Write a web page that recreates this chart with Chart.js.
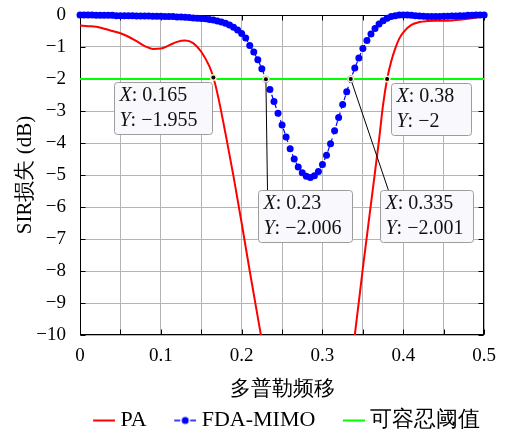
<!DOCTYPE html>
<html>
<head>
<meta charset="utf-8">
<script src="https://cdn.jsdelivr.net/npm/chart.js@4"></script>
<style>
  html, body { margin: 0; padding: 0; background: #fff; }
</style>
</head>
<body>
<canvas id="chart" width="506" height="432"></canvas>
<script>
/* SIR 损失 vs 多普勒频移 */
const FONT = "'Liberation Serif', 'DejaVu Serif', serif";

// PA 曲线 (低于 -10 的部分被坐标区裁掉)
const paX = [0, 0.01, 0.02, 0.03, 0.04, 0.05, 0.06, 0.07, 0.08, 0.09, 0.10, 0.11, 0.12, 0.13, 0.14, 0.15, 0.16, 0.165,
  0.17, 0.18, 0.19, 0.20, 0.21, 0.22, 0.23, 0.24, 0.25, 0.32, 0.33, 0.34, 0.35, 0.36, 0.37, 0.375, 0.38, 0.385,
  0.39, 0.395, 0.40, 0.41, 0.42, 0.43, 0.44, 0.45, 0.46, 0.47, 0.48, 0.49, 0.50];
const paY = [-0.33, -0.35, -0.37, -0.43, -0.50, -0.57, -0.68, -0.82, -0.97, -1.06, -1.05, -0.95, -0.84, -0.80, -0.88, -1.15, -1.60, -1.955,
  -2.45, -3.70, -5.05, -6.50, -8.00, -9.45, -10.85, -12.0, -13.0, -13.0, -11.8, -10.0, -7.9, -5.9, -3.9, -2.8, -2.0, -1.45,
  -1.05, -0.74, -0.54, -0.31, -0.22, -0.19, -0.18, -0.18, -0.17, -0.15, -0.12, -0.08, -0.04];

// FDA-MIMO 散点
const fdaX = [0, 0.005, 0.01, 0.015, 0.02, 0.025, 0.03, 0.035, 0.04, 0.045, 0.05, 0.055, 0.06, 0.065, 0.07, 0.075, 0.08, 0.085, 0.09, 0.095,
  0.10, 0.105, 0.11, 0.115, 0.12, 0.125, 0.13, 0.135, 0.14, 0.145, 0.15, 0.155, 0.16, 0.165, 0.17, 0.175, 0.18, 0.185, 0.19, 0.195,
  0.20, 0.205, 0.21, 0.215, 0.22, 0.225, 0.23, 0.235, 0.24, 0.245, 0.25, 0.255, 0.26, 0.265, 0.27, 0.275, 0.28, 0.285, 0.29, 0.295,
  0.30, 0.305, 0.31, 0.315, 0.32, 0.325, 0.33, 0.335, 0.34, 0.345, 0.35, 0.355, 0.36, 0.365, 0.37, 0.375, 0.38, 0.385, 0.39, 0.395,
  0.40, 0.405, 0.41, 0.415, 0.42, 0.425, 0.43, 0.435, 0.44, 0.445, 0.45, 0.455, 0.46, 0.465, 0.47, 0.475, 0.48, 0.485, 0.49, 0.495, 0.50];
const fdaY = [0, 0, 0, 0, -0.01, -0.01, -0.01, -0.01, -0.01, -0.02, -0.02, -0.02, -0.02, -0.02, -0.03, -0.03, -0.03, -0.03, -0.04, -0.04,
  -0.04, -0.05, -0.05, -0.05, -0.06, -0.06, -0.07, -0.08, -0.09, -0.10, -0.11, -0.12, -0.14, -0.16, -0.19, -0.22, -0.26, -0.31, -0.38, -0.47,
  -0.58, -0.72, -0.95, -1.16, -1.40, -1.68, -2.006, -2.33, -2.70, -3.07, -3.44, -3.81, -4.18, -4.50, -4.75, -4.93, -5.04, -5.08, -5.02, -4.89,
  -4.67, -4.38, -4.02, -3.62, -3.20, -2.80, -2.40, -2.001, -1.66, -1.34, -1.05, -0.80, -0.59, -0.42, -0.28, -0.18, -0.10, -0.05, -0.02, 0,
  0, 0, -0.01, -0.02, -0.03, -0.04, -0.05, -0.05, -0.05, -0.05, -0.04, -0.04, -0.03, -0.03, -0.02, -0.02, -0.01, -0.01, 0, 0, 0];

// 可容忍阈值
const thrX = [0, 0.5];
const thrY = [-2, -2];

// 数据提示
const tipX = [0.165, 0.23, 0.335, 0.38];
const tipY = [-1.955, -2.006, -2.001, -2];
const tipBoxes = [
  { dx: -99, dy: 4, w: 98, h: 52 },
  { dx: -7.5, dy: 111, w: 94, h: 52, lx: 9 },
  { dx: 29.5, dy: 111, w: 93, h: 52, lx: 8 },
  { dx: 3.5, dy: 4, w: 80, h: 52 }
];

const pts = (xs, ys) => xs.map((x, i) => ({ x, y: ys[i] }));
const minus = v => String(v).replace('-', '\u2212');

// 图例图标: 右侧 22px 为线段, 左侧留白作为条目间距
function legendIcon(color, withDot) {
  const c = document.createElement('canvas');
  c.width = 49; c.height = 12;
  const g = c.getContext('2d');
  g.strokeStyle = color; g.fillStyle = color;
  if (withDot) {
    g.lineWidth = 1.5;
    g.beginPath(); g.moveTo(27, 6); g.lineTo(33, 6); g.moveTo(43, 6); g.lineTo(49, 6); g.stroke();
    g.beginPath(); g.arc(38, 6, 3.5, 0, Math.PI * 2); g.fill();
  } else {
    g.lineWidth = 2;
    g.beginPath(); g.moveTo(27, 6); g.lineTo(49, 6); g.stroke();
  }
  return c;
}

// 外框 + 向内刻度
const frame = {
  id: 'frame',
  beforeDatasetsDraw(chart) {
    const { ctx, chartArea: a, scales: { x, y } } = chart;
    const L = Math.round(a.left) + 0.5, R = Math.round(a.right) - 0.5;
    const T = Math.round(a.top) + 0.5, B = Math.round(a.bottom) - 0.5;
    ctx.save();
    ctx.strokeStyle = '#000';
    ctx.lineWidth = 1;
    ctx.beginPath();
    x.ticks.forEach(t => {
      const p = Math.round(x.getPixelForValue(t.value)) + 0.5;
      ctx.moveTo(p, B); ctx.lineTo(p, B - 5);
      ctx.moveTo(p, T); ctx.lineTo(p, T + 5);
    });
    y.ticks.forEach(t => {
      const p = Math.round(y.getPixelForValue(t.value)) + 0.5;
      ctx.moveTo(L, p); ctx.lineTo(L + 5, p);
      ctx.moveTo(R, p); ctx.lineTo(R - 5, p);
    });
    ctx.stroke();
    ctx.strokeRect(L, T, R - L, B - T);
    ctx.restore();
  }
};

// 图例整体挪到坐标区正下方
const legendShift = {
  id: 'legendShift',
  afterLayout(chart) {
    const lg = chart.legend;
    lg.left += 33; lg.right += 33;
    lg.top += 9.5; lg.bottom += 9.5;
  }
};

const datatips = {
  id: 'datatips',
  afterDatasetsDraw(chart) {
    const { ctx, scales: { x, y } } = chart;
    ctx.save();
    tipX.forEach((tx, i) => {
      const px = x.getPixelForValue(tx), py = y.getPixelForValue(tipY[i]);
      const b = tipBoxes[i];
      const bx = Math.round(px + b.dx) + 0.5, by = Math.round(py + b.dy) + 0.5;
      if (b.lx != null) {
        ctx.strokeStyle = '#000'; ctx.lineWidth = 1;
        ctx.beginPath(); ctx.moveTo(px, py); ctx.lineTo(bx + b.lx, by); ctx.stroke();
      }
      ctx.beginPath();
      ctx.roundRect(bx, by, b.w, b.h, 3);
      ctx.fillStyle = '#f9f9fd'; ctx.fill();
      ctx.strokeStyle = '#9c9c9c'; ctx.lineWidth = 1; ctx.stroke();

      ctx.fillStyle = '#111';
      ctx.textBaseline = 'middle';
      ctx.textAlign = 'left';
      [['X', tx], ['Y', tipY[i]]].forEach(([k, v], j) => {
        const ty = by + 13 + j * 25;
        ctx.font = "italic 20px " + FONT;
        ctx.fillText(k, bx + 5, ty);
        const w = ctx.measureText(k).width;
        ctx.font = "20px " + FONT;
        ctx.fillText(': ' + minus(v), bx + 5 + w, ty);
      });

      ctx.beginPath(); ctx.arc(px, py, 3.5, 0, Math.PI * 2);
      ctx.fillStyle = '#f3eec4'; ctx.fill();
      ctx.beginPath(); ctx.arc(px, py, 2, 0, Math.PI * 2);
      ctx.fillStyle = '#000'; ctx.fill();
    });
    ctx.restore();
  }
};

Chart.defaults.font.family = FONT;
Chart.defaults.color = '#000';

new Chart(document.getElementById('chart'), {
  type: 'line',
  data: {
    datasets: [
      {
        label: 'PA', data: pts(paX, paY), borderColor: '#ff0000', borderWidth: 2,
        pointRadius: 0, cubicInterpolationMode: 'monotone', order: 3,
        legendIcon: legendIcon('#ff0000', false)
      },
      {
        label: 'FDA-MIMO', data: pts(fdaX, fdaY), borderColor: '#0000ff', borderWidth: 1.2, borderDash: [5, 4],
        pointRadius: 3.5, pointBorderWidth: 0, pointBackgroundColor: '#0000ff', clip: false, order: 2,
        legendIcon: legendIcon('#0000ff', true)
      },
      {
        label: '可容忍阈值', data: pts(thrX, thrY), borderColor: '#00ff00', borderWidth: 2,
        pointRadius: 0, order: 1,
        legendIcon: legendIcon('#00ff00', false)
      }
    ]
  },
  options: {
    responsive: false, animation: false, events: [],
    layout: { padding: { left: 0, right: 20, top: 15, bottom: 0 } },
    plugins: {
      tooltip: { enabled: false },
      legend: {
        position: 'bottom', align: 'center',
        labels: {
          usePointStyle: true, pointStyleWidth: 38, padding: 6,
          font: { size: 22, lineHeight: 1 },
          generateLabels: chart => chart.data.datasets.map((d, i) => ({
            text: d.label, pointStyle: d.legendIcon, datasetIndex: i,
            fillStyle: 'transparent', strokeStyle: 'transparent', lineWidth: 0, hidden: false
          }))
        }
      }
    },
    scales: {
      x: {
        type: 'linear', min: 0, max: 0.5,
        grid: { color: '#b4b4b4', drawTicks: false },
        border: { display: false },
        ticks: {
          stepSize: 0.05, padding: 10, autoSkip: false, maxRotation: 0, font: { size: 19 },
          callback: v => { const r = Math.round(v * 100); return r % 10 === 0 ? String(r / 100) : ''; }
        },
        title: { display: true, text: '多普勒频移', font: { size: 21, lineHeight: 1 }, padding: { top: 0, bottom: -5.5 } },
        afterFit(s) { s.height = 59; }
      },
      y: {
        min: -10, max: 0,
        grid: { color: '#b4b4b4', drawTicks: false },
        border: { display: false },
        ticks: { stepSize: 1, padding: 14, font: { size: 19 }, callback: v => minus(v) },
        title: { display: true, text: 'SIR损失 (dB)', font: { size: 21, lineHeight: 1 }, padding: { top: 14.5, bottom: 0 } },
        afterFit(s) { s.width = 80; s.paddingTop = 0; s.paddingBottom = 0; }
      }
    }
  },
  plugins: [frame, legendShift, datatips]
});
</script>
</body>
</html>
